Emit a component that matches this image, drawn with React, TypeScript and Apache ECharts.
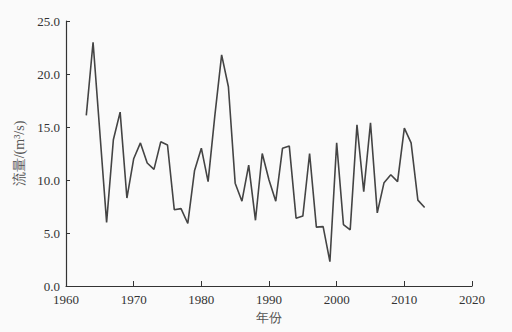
import React, { useEffect, useRef } from "react";
import * as echarts from "echarts";

const years: number[] = [
  1963, 1964, 1965, 1966, 1967, 1968, 1969, 1970, 1971, 1972,
  1973, 1974, 1975, 1976, 1977, 1978, 1979, 1980, 1981, 1982,
  1983, 1984, 1985, 1986, 1987, 1988, 1989, 1990, 1991, 1992,
  1993, 1994, 1995, 1996, 1997, 1998, 1999, 2000, 2001, 2002,
  2003, 2004, 2005, 2006, 2007, 2008, 2009, 2010, 2011, 2012, 2013,
];
const flow: number[] = [
  16.1, 23.0, 14.5, 6.0, 13.8, 16.4, 8.3, 12.0, 13.5, 11.6,
  11.0, 13.6, 13.3, 7.2, 7.3, 5.9, 10.9, 13.0, 9.85, 16.1,
  21.8, 18.8, 9.7, 8.0, 11.4, 6.2, 12.5, 10.0, 8.0, 13.0,
  13.2, 6.4, 6.6, 12.5, 5.55, 5.6, 2.3, 13.5, 5.8, 5.3,
  15.2, 8.9, 15.4, 6.9, 9.75, 10.5, 9.85, 14.9, 13.5, 8.1, 7.4,
];
const xName = "年份";
const yName = "流量/(m³/s)";

const serif = "Liberation Serif";

export default function App() {
  const ref = useRef<HTMLDivElement>(null);
  useEffect(() => {
    if (!ref.current) return;
    const chart = echarts.init(ref.current, undefined, { renderer: "svg" });
    chart.setOption({
      animation: false,
      backgroundColor: "#fafafa",
      textStyle: { fontFamily: serif },
      grid: { left: 66, right: 40, top: 21, bottom: 46, containLabel: false },
      xAxis: {
        type: "value",
        min: 1960,
        max: 2020,
        interval: 10,
        name: xName,
        nameLocation: "middle",
        nameGap: 22,
        nameTextStyle: { fontFamily: serif, fontSize: 13, color: "#555" },
        axisLine: { show: true, lineStyle: { color: "#333", width: 1.2 } },
        axisTick: { show: true, inside: true, length: 5, lineStyle: { color: "#333" } },
        axisLabel: {
          fontFamily: serif,
          fontSize: 13,
          lineHeight: 13,
          color: "#333",
          margin: 7,
          formatter: (v: number) => String(v),
        },
        splitLine: { show: false },
      },
      yAxis: {
        type: "value",
        min: 0,
        max: 25,
        interval: 5,
        name: yName,
        nameLocation: "middle",
        nameGap: 37,
        nameRotate: 90,
        nameTextStyle: { fontFamily: serif, fontSize: 14, color: "#555" },
        axisLine: { show: true, lineStyle: { color: "#333", width: 1.2 } },
        axisTick: { show: true, inside: true, length: 4, lineStyle: { color: "#333" } },
        axisLabel: {
          fontFamily: serif,
          fontSize: 13,
          lineHeight: 12,
          color: "#333",
          margin: 6,
          formatter: (v: number) => v.toFixed(1),
        },
        splitLine: { show: false },
      },
      series: [
        {
          type: "line",
          data: years.map((y, i) => [y, flow[i]]),
          showSymbol: false,
          symbol: "none",
          lineStyle: { color: "#444", width: 1.6 },
        },
      ],
    });
    return () => chart.dispose();
  }, []);
  return (
    <div
      ref={ref}
      style={{ position: "fixed", left: 0, top: 0, width: 512, height: 332 }}
    />
  );
}
